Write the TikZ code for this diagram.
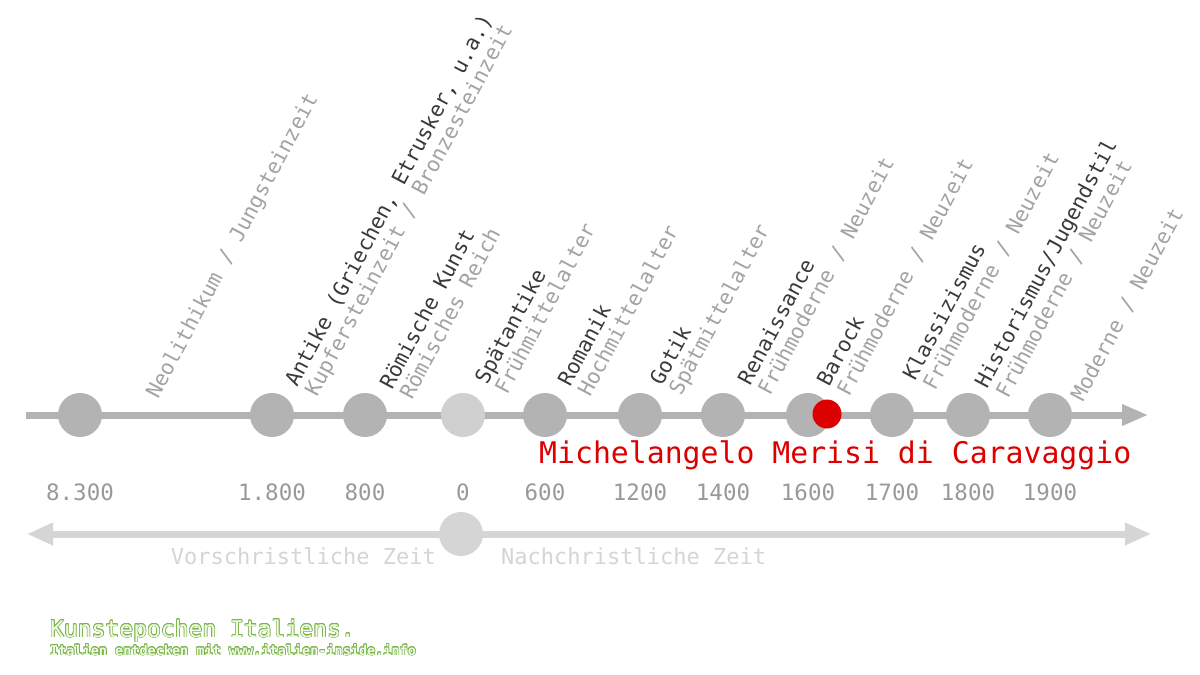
\documentclass[tikz,border=0pt]{standalone}
\usepackage{fontspec}
\setmonofont{DejaVu Sans Mono}
\usepackage{contour}
\usepackage{tikz}
\usetikzlibrary{calc,positioning,arrows.meta}
\definecolor{axisGrey}{HTML}{B3B3B3}
\definecolor{zeroGrey}{HTML}{D0D0D0}
\definecolor{faintGrey}{HTML}{D5D5D5}
\definecolor{nameGrey}{HTML}{3A3A3A}
\definecolor{periodGrey}{HTML}{A3A3A3}
\definecolor{yearGrey}{HTML}{999999}
\definecolor{caravaggioRed}{HTML}{DD0000}
\definecolor{italienGreen}{HTML}{7AB648}
\definecolor{italienPale}{HTML}{F2F8EA}
\contourlength{0.6pt}
\tikzstyle{timeline} = [line width=7pt, draw=axisGrey, -{Triangle[length=25pt,width=22pt,line width=0.1pt]}]
\tikzstyle{eraline} = [line width=7pt, draw=faintGrey, {Triangle[length=25pt,width=23pt,line width=0.1pt]}-{Triangle[length=25pt,width=23pt,line width=0.1pt]}]

\begin{document}
\begin{tikzpicture}[x=1pt,y=-1pt]
\tikzset{%
	era/.style = { circle, fill=axisGrey, minimum size=44pt, inner sep=0pt },
	zeroEra/.style = { era, fill=zeroGrey },
	redDot/.style = { circle, fill=caravaggioRed, minimum size=29pt, inner sep=0pt },
	epochName/.style = { rotate=62, anchor=base west, inner sep=0pt, text=nameGrey, font=\ttfamily\fontsize{21}{21}\selectfont },
	epochPeriod/.style = { epochName, text=periodGrey },
	yearLabel/.style = { anchor=base, inner sep=0pt, text=yearGrey, font=\ttfamily\fontsize{22.5}{22.5}\selectfont },
	painter/.style = { anchor=base west, inner sep=0pt, text=caravaggioRed, font=\ttfamily\fontsize{29.8}{30}\selectfont },
	eraText/.style = { inner sep=0pt, text=faintGrey, font=\ttfamily\fontsize{22}{22}\selectfont },
	footer/.style = { anchor=base west, inner sep=0pt, text=italienPale }
}
\fill [white] (0,0) rectangle (1200,675);
\useasboundingbox (0,0) rectangle (1200,675);

\coordinate(Start)		at (26,415);
\coordinate(Today)		at (1147,415);
\draw [timeline]	(Start) -- (Today);

\node(BC8300)		[era]			at (80,415)		{};
\node(BC1800)		[era]			at (272,415)	{};
\node(BC800)		[era]			at (365,415)	{};
\node(Zero)			[zeroEra]		at (463,415)	{};
\node(AD600)		[era]			at (545,415)	{};
\node(AD1200)		[era]			at (640,415)	{};
\node(AD1400)		[era]			at (723,415)	{};
\node(AD1600)		[era]			at (808,415)	{};
\node(AD1700)		[era]			at (892,415)	{};
\node(AD1800)		[era]			at (968,415)	{};
\node(AD1900)		[era]			at (1050,415)	{};
\node(Caravaggio)	[redDot]		at (827,414)	{};

\node(PNeolithikum)	[epochPeriod]	at ($(BC8300)+(78,-15)$)
								{Neolithikum / Jungsteinzeit};
\node(NAntike)		[epochName]		at ($(BC1800)+(25,-27)$)
								{Antike (Griechen, Etrusker, u.a.)};
\node(PAntike)		[epochPeriod]	at ($(NAntike.base west)+(20,10)$)
								{Kupfersteinzeit / Bronzesteinzeit};
\node(NRoemisch)	[epochName]		at ($(BC800)+(27,-24)$)
								{Römische Kunst};
\node(PRoemisch)	[epochPeriod]	at ($(NRoemisch.base west)+(20,10)$)
								{Römisches Reich};
\node(NSpaetantike)	[epochName]		at ($(Zero)+(24,-29)$)
								{Spätantike};
\node(PSpaetantike)	[epochPeriod]	at ($(NSpaetantike.base west)+(20,10)$)
								{Frühmittelalter};
\node(NRomanik)		[epochName]		at ($(AD600)+(25,-27)$)
								{Romanik};
\node(PRomanik)		[epochPeriod]	at ($(NRomanik.base west)+(20,10)$)
								{Hochmittelalter};
\node(NGotik)		[epochName]		at ($(AD1200)+(22,-28)$)
								{Gotik};
\node(PGotik)		[epochPeriod]	at ($(NGotik.base west)+(19,10)$)
								{Spätmittelalter};
\node(NRenaissance)	[epochName]		at ($(AD1400)+(27,-28)$)
								{Renaissance};
\node(PRenaissance)	[epochPeriod]	at ($(NRenaissance.base west)+(20,10)$)
								{Frühmoderne / Neuzeit};
\node(NBarock)		[epochName]		at ($(AD1600)+(21,-27)$)
								{Barock};
\node(PBarock)		[epochPeriod]	at ($(NBarock.base west)+(20,10)$)
								{Frühmoderne / Neuzeit};
\node(NKlassizismus)	[epochName]	at ($(AD1700)+(23,-33)$)
								{Klassizismus};
\node(PKlassizismus)	[epochPeriod]	at ($(NKlassizismus.base west)+(20,10)$)
								{Frühmoderne / Neuzeit};
\node(NHistorismus)	[epochName]		at ($(AD1800)+(19,-25)$)
								{Historismus/Jugendstil};
\node(PHistorismus)	[epochPeriod]	at ($(NHistorismus.base west)+(21,10)$)
								{Frühmoderne / Neuzeit};
\node(PModerne)		[epochPeriod]	at ($(AD1900)+(33,-12)$)
								{Moderne / Neuzeit};

\coordinate(YearLine)	at (0,500);
\node(Y8300)		[yearLabel]		at (BC8300 |- YearLine)		{8.300};
\node(Y1800BC)		[yearLabel]		at (BC1800 |- YearLine)		{1.800};
\node(Y800BC)		[yearLabel]		at (BC800 |- YearLine)		{800};
\node(Y0)			[yearLabel]		at (Zero |- YearLine)		{0};
\node(Y600)			[yearLabel]		at (AD600 |- YearLine)		{600};
\node(Y1200)		[yearLabel]		at (AD1200 |- YearLine)		{1200};
\node(Y1400)		[yearLabel]		at (AD1400 |- YearLine)		{1400};
\node(Y1600)		[yearLabel]		at (AD1600 |- YearLine)		{1600};
\node(Y1700)		[yearLabel]		at (AD1700 |- YearLine)		{1700};
\node(Y1800)		[yearLabel]		at (AD1800 |- YearLine)		{1800};
\node(Y1900)		[yearLabel]		at (AD1900 |- YearLine)		{1900};

\node(Painter)		[painter]		at (539,463)
								{Michelangelo Merisi di Caravaggio};

\coordinate(Past)		at (28,534);
\coordinate(Future)		at (1150,534);
\draw [eraline]		(Past) -- (Future);
\node(Christ)		[era, fill=faintGrey]	at (461,534)	{};
\node(BeforeChrist)	[eraText, anchor=base east]	at ($(Christ)+(-25,30)$)
								{Vorschristliche Zeit};
\node(AfterChrist)	[eraText, anchor=base west]	at ($(Christ)+(40,30)$)
								{Nachchristliche Zeit};

\node(Title)		[footer, font=\ttfamily\fontsize{23}{23}\selectfont]	at (50,637)
								{\contour{italienGreen}{Kunstepochen Italiens.}};
\node(Credit)		[footer, font=\ttfamily\bfseries\fontsize{13.5}{14}\selectfont]	at (50,655)
								{\contour{italienGreen}{Italien entdecken mit www.italien-inside.info}};

\end{tikzpicture}
\end{document}
